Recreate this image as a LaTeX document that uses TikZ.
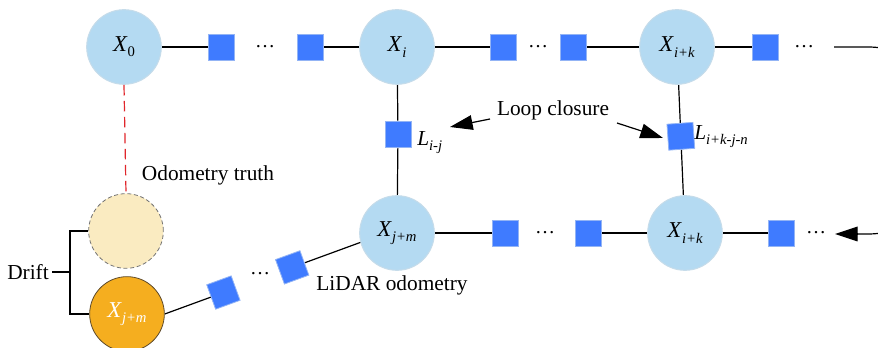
\documentclass[tikz,border=0pt]{standalone}
\usepackage{fontspec}
\setmainfont{Liberation Serif}
\usetikzlibrary{arrows.meta,backgrounds,calc}
\definecolor{poseblue}{HTML}{B4DAF2}
\definecolor{poseblueb}{HTML}{C6DCEA}
\definecolor{facblue}{HTML}{3F7BFF}
\definecolor{facblueb}{HTML}{93B4F5}
\definecolor{truthbeige}{HTML}{FAEBC1}
\definecolor{odoorange}{HTML}{F5AE1F}
\definecolor{odoorangeb}{HTML}{5E4A2A}
\definecolor{truthred}{HTML}{E0262B}
\newcommand\xlab[2]{\textit{#1}\raisebox{-0.5ex}{\fontsize{11}{11}\selectfont #2}}
\tikzset{
  pose/.style={circle, fill=poseblue, draw=poseblueb, line width=0.75pt, minimum size=56pt, inner sep=0pt, font=\fontsize{17}{20}\selectfont},
  fac/.style={rectangle, fill=facblue, draw=facblueb, line width=0.6pt, minimum size=19.5pt, inner sep=0pt},
  txt/.style={font=\fontsize{16}{19}\selectfont, inner sep=0pt},
  dotsn/.style={font=\fontsize{15}{18}\selectfont, inner sep=0pt},
  conn/.style={line width=0.9pt, black},
  bigarrow/.style={line width=0.9pt, -{Triangle[length=17pt,width=11pt]}},
}
\begin{document}
\begin{tikzpicture}[x=0.75pt,y=-0.75pt]
\useasboundingbox (0,0) rectangle (878,348);
\clip (0,0) rectangle (878,348);
% poses top row
\node[pose] (x0) at (124,47) {\xlab{X}{0}};
\node[pose] (xi) at (397,47) {\xlab{X}{\itshape i}};
\node[pose] (xik) at (677,47) {\xlab{X}{\itshape i+k}};
% bottom row
\node[pose] (xjm) at (397,233) {\xlab{X}{\itshape j+m}};
\node[pose] (xik2) at (685,233) {\xlab{X}{\itshape i+k}};
% truth and drifted
\node[circle, fill=truthbeige, draw=black!55, dash pattern=on 3pt off 2pt, line width=0.6pt, minimum size=56pt, inner sep=0pt] (beige) at (126,231) {};
\node[circle, fill=odoorange, draw=odoorangeb, line width=0.6pt, minimum size=56pt, inner sep=0pt, text=white, font=\fontsize{17}{20}\selectfont] (orng) at (127,314) {\xlab{X}{\itshape j+m}};
% top row factors
\node[fac] (f1) at (221,47) {};
\node[dotsn] (d1) at (265,47) {…};
\node[fac] (f2) at (310,47) {};
\node[fac] (f3) at (503,47) {};
\node[dotsn] (d2) at (538,47) {…};
\node[fac] (f4) at (573,47) {};
\node[fac] (f5) at (765,47) {};
\node[dotsn] (d3) at (804,47) {…};
\coordinate (tr) at (834,47);
% bottom row factors
\node[fac] (f6) at (505,233) {};
\node[dotsn] (d4) at (545,233) {…};
\node[fac] (f7) at (588,233) {};
\node[fac] (f8) at (781,233) {};
\node[dotsn] (d5) at (816,233) {…};
\coordinate (br) at (835,234);
% loop closure factors
\node[fac] (lij) at (398,134) {};
\node[txt, anchor=west] (lijl) at (417,143) {\xlab{L}{\itshape i-j}};
\node[fac, rotate=4] (lik) at ($(xik)!0.48!(xik2)$) {};
\node[txt, anchor=west] (likl) at (694,137) {\xlab{L}{\itshape i+k-j-n}};
% lidar odometry chain
\coordinate (ej) at (367,240);
\node[fac, rotate=20] (s1) at ($(orng.east)!0.29!(ej)$) {};
\node[dotsn] (d6) at (260,274) {…};
\node[fac, rotate=20] (s2) at ($(orng.east)!0.63!(ej)$) {};
% texts
\node[txt] (loop) at (553,110) {Loop closure};
\node[txt] (lidar) at (392,285) {LiDAR odometry};
\node[txt] (truth) at (208,175) {Odometry truth};
\node[txt] (drift) at (28,272) {Drift};
\coordinate (bk) at (70,272);
\coordinate (la1) at (490,119);
\coordinate (la2) at (450,127);
\coordinate (ra1) at (617,123);
\coordinate (ra2) at (663,138);
\begin{scope}[on background layer]
\draw[conn] (x0) -- (f1);
\draw[conn] (f2) -- (xi);
\draw[conn] (xi) -- (f3);
\draw[conn] (f4) -- (xik);
\draw[conn] (xik) -- (f5);
\draw[conn] (xi) -- (lij) -- (xjm);
\draw[conn] (xik) -- (lik) -- (xik2);
\draw[conn] (xjm) -- (f6);
\draw[conn] (f7) -- (xik2);
\draw[conn] (xik2) -- (f8);
\draw[conn] (orng.east) -- (s1);
\draw[conn] (s2) -- (ej);
\end{scope}
\draw[conn] (tr) -- (868,47) to[out=0,in=90] (960,140) to[out=-90,in=0] (868,234) -- (858,234);
\draw[bigarrow] (858,234) -- (br);
\draw[bigarrow] (la1) -- (la2);
\draw[bigarrow] (ra1) -- (ra2);
\draw[truthred, line width=0.9pt, dash pattern=on 8pt off 4pt] (x0.south) -- (beige.north);
\draw[conn] (drift.east) ++(3,0) -- (bk);
\draw[conn] (beige.west) -- (beige.west -| bk) -- (orng.west -| bk) -- (orng.west);
\end{tikzpicture}
\end{document}
